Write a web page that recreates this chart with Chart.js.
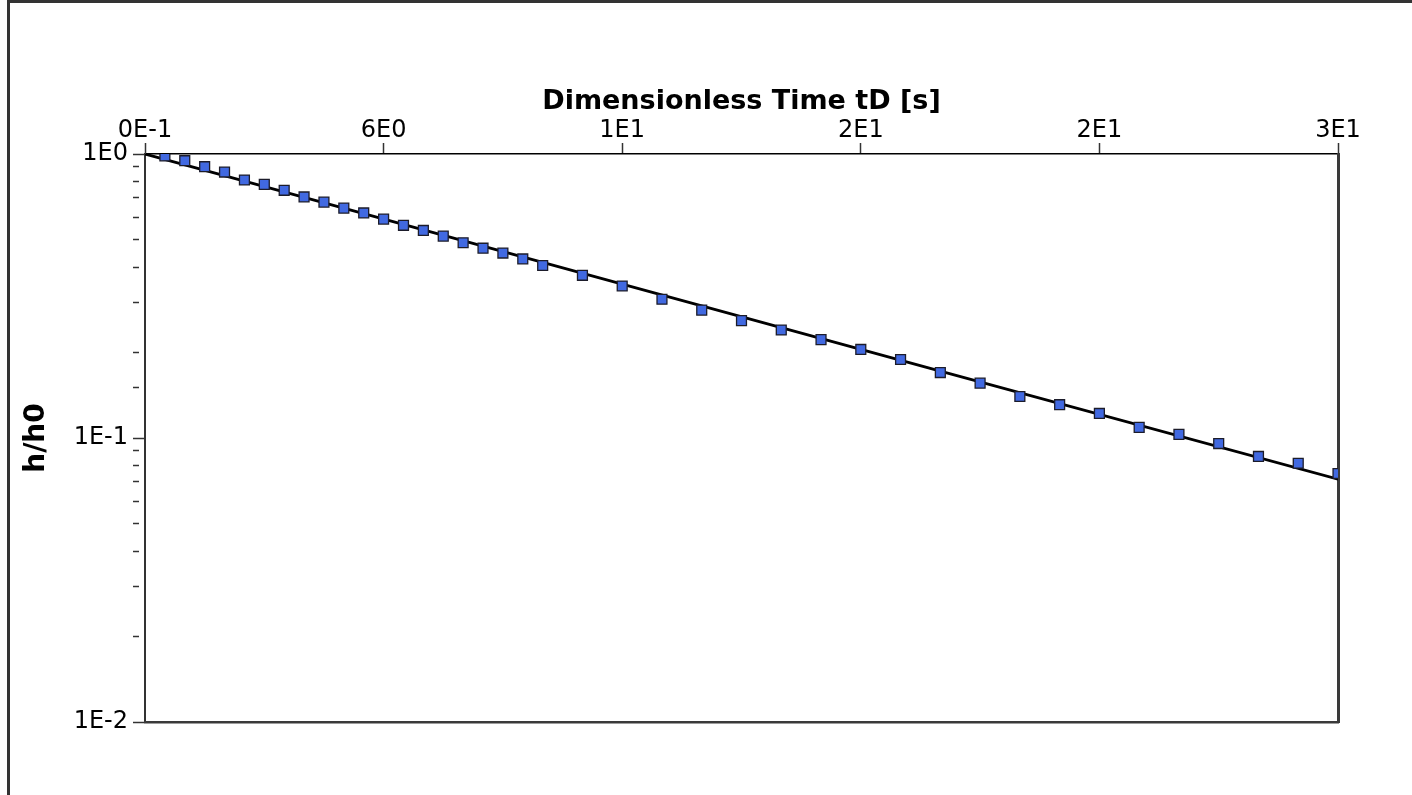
<!DOCTYPE html>
<html>
<head>
<meta charset="utf-8">
<script src="https://cdn.jsdelivr.net/npm/chart.js@4.4.1/dist/chart.umd.min.js"></script>
<style>
  html,body{margin:0;padding:0;background:#fff;overflow:hidden;}
  .frame{position:absolute;left:7px;top:0;width:1500px;height:900px;border:3px solid #333;box-sizing:border-box;}
  #chart{position:absolute;left:0;top:0;}
</style>
</head>
<body>
<div class="frame"></div>
<canvas id="chart" width="1412" height="795"></canvas>
<script>
/* ── DATA ── */
const tD = [0.5,1,1.5,2,2.5,3,3.5,4,4.5,5,5.5,6,6.5,7,7.5,8,8.5,9,9.5,10,
            11,12,13,14,15,16,17,18,19,20,21,22,23,24,25,26,27,28,29,30];
const hRatio = [0.985,0.947,0.902,0.864,0.810,0.782,0.745,0.706,0.677,0.645,
                0.620,0.590,0.561,0.538,0.514,0.487,0.466,0.448,0.427,0.405,
                0.374,0.343,0.308,0.282,0.259,0.240,0.222,0.205,0.189,0.170,
                0.156,0.140,0.131,0.122,0.109,0.103,0.0956,0.0861,0.0815,0.0750];
const fitT = [0,10,20,30];
const fitH = [1,0.415,0.172,0.0716];

const xTickLabels = ['0E-1','6E0','1E1','2E1','2E1','3E1'];
const yMajorValues = [0.01,0.1,1];
const yMajorLabels = ['1E-2','1E-1','1E0'];

const FONT = "'DejaVu Sans', Verdana, sans-serif";
const isDecade = v => { const m = Math.log10(v); return Math.abs(m - Math.round(m)) < 1e-6; };

new Chart(document.getElementById('chart').getContext('2d'), {
  type: 'scatter',
  data: {
    datasets: [
      { label:'fit', type:'line', data: fitT.map((t,i)=>({x:t, y:fitH[i]})),
        borderColor:'#000', borderWidth:2.8, pointRadius:0, fill:false, tension:0, clip:0, order:2 },
      { label:'measured', data: tD.map((t,i)=>({x:t, y:hRatio[i]})),
        pointStyle:'rect', pointRadius:7, pointHoverRadius:7,
        backgroundColor:'#4169E1', borderColor:'#1c1c2a', borderWidth:1.3, showLine:false, clip:0, order:1 }
    ]
  },
  options: {
    responsive:false, animation:false,
    layout:{ padding:{ left:10, top:0, right:74, bottom:73 } },
    plugins:{ legend:{display:false}, tooltip:{enabled:false} },
    scales:{
      x:{ type:'linear', position:'top', min:0, max:30,
        afterFit: s => { s.height = 154; },
        ticks:{ stepSize:6, color:'#000', padding:0, maxRotation:0,
                font:{family:FONT, size:24, lineHeight:1},
                callback:(v,i)=>xTickLabels[i] },
        grid:{ drawOnChartArea:false, tickLength:11, tickColor:'#333', tickWidth:1.5 },
        border:{ display:true, color:'#000', width:1.5 },
        title:{ display:true, text:'Dimensionless Time tD [s]', color:'#000',
                font:{family:FONT, size:27, weight:'bold', lineHeight:1.2}, padding:{top:86} } },
      y:{ type:'logarithmic', position:'left', min:0.01, max:1,
        afterFit: s => { s.width = 135; },
        ticks:{ autoSkip:false, color:'#000', padding:5,
                font:{family:FONT, size:24, lineHeight:1},
                callback: v => { const i = yMajorValues.findIndex(m=>Math.abs(m-v)/m<1e-6); return i<0 ? '' : yMajorLabels[i]; } },
        grid:{ drawOnChartArea:false, tickLength:12, tickColor:'#333', tickWidth:1.5,
               tickBorderDash: ctx => (ctx.tick && !isDecade(ctx.tick.value)) ? [6,100] : [] },
        border:{ display:true, color:'#333', width:2 },
        title:{ display:true, text:'h/h0', color:'#000',
                font:{family:FONT, size:28, weight:'bold', lineHeight:1.2}, padding:{top:9.7} } },
      x2:{ type:'linear', position:'bottom', min:0, max:30,
        afterFit: s => { s.height = 0; },
        ticks:{display:false}, grid:{display:false},
        border:{ display:true, color:'#3a3a3a', width:2.5 } },
      y2:{ type:'logarithmic', position:'right', min:0.01, max:1,
        afterFit: s => { s.width = 0; },
        ticks:{display:false}, grid:{display:false},
        border:{ display:true, color:'#3a3a3a', width:3 } }
    }
  }
});
</script>
</body>
</html>
